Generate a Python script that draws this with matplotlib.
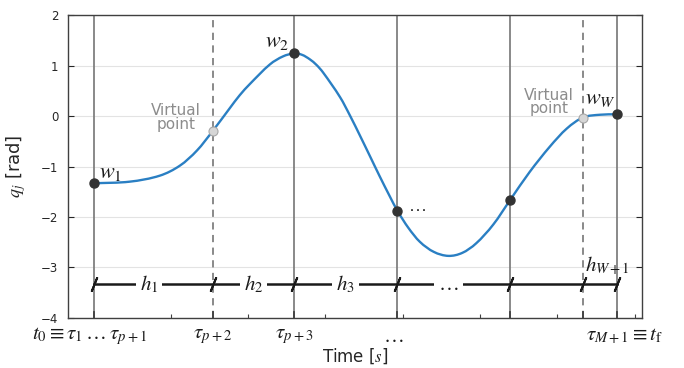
import matplotlib
matplotlib.use("Agg")
import matplotlib.pyplot as plt
from matplotlib.path import Path
from matplotlib.patches import PathPatch

plt.rcParams['mathtext.fontset'] = 'stix'
plt.rcParams['font.family'] = ['DejaVu Sans']

# Curve samples (time, joint position)
curve_t = [0.00, 0.47, 0.86, 1.12, 1.34, 1.54, 1.76, 1.89, 2.02, 2.28, 2.45, 2.595,
           2.70, 2.80, 2.885, 2.97, 3.19, 3.32, 3.45, 3.58, 3.70, 3.83, 3.93,
           4.07, 4.22, 4.40, 4.59, 4.77, 4.95, 5.17, 5.39, 5.64, 5.90, 6.12,
           6.33, 6.55, 6.77]
curve_q = [-1.333, -1.30, -1.18, -0.98, -0.68, -0.30, 0.15, 0.41, 0.63, 1.02, 1.18, 1.24,
           1.21, 1.12, 1.01, 0.86, 0.37, 0.00, -0.40, -0.81, -1.19, -1.585, -1.875,
           -2.21, -2.49, -2.69, -2.77, -2.71, -2.52, -2.15, -1.66, -1.11, -0.61, -0.25,
           -0.03, 0.025, 0.034]

# Waypoints and virtual points
way_t = [0.0, 2.595, 3.93, 5.39, 6.77]
way_q = [-1.333, 1.24, -1.875, -1.66, 0.034]
virt_t = [1.54, 6.33]
virt_q = [-0.30, -0.03]

# Knot lines
solid_knots = [0.0, 2.595, 3.93, 5.39, 6.77]
dashed_knots = [1.54, 6.33]
all_knots = [0.0, 1.54, 2.595, 3.93, 5.39, 6.33, 6.77]

knot_label_t = [-0.05, 1.54, 2.595, 3.88, 6.87]
knot_labels = [r'$t_0 \equiv \tau_1 \,\ldots\, \tau_{p+1}$', r'$\tau_{p+2}$',
               r'$\tau_{p+3}$', r'$\ldots$', r'$\tau_{M+1} \equiv t_{\rm f}$']

h_t = [0.72, 2.07, 3.26, 4.59]
h_labels = [r'$h_1$', r'$h_2$', r'$h_3$', r'$\ldots$']
h_level = -3.33

yticks = [2, 1, 0, -1, -2, -3, -4]
xminor = [1, 2, 3, 4, 5, 6, 7]


def smooth_path(xs, ys):
    """Bezier path passing through every sample (Catmull-Rom style tangents)."""
    n = len(xs)
    verts = [(xs[0], ys[0])]
    codes = [Path.MOVETO]
    for i in range(n - 1):
        i0 = max(i - 1, 0)
        i3 = min(i + 2, n - 1)
        h = xs[i + 1] - xs[i]
        m1 = (ys[i + 1] - ys[i0]) / (xs[i + 1] - xs[i0])
        m2 = (ys[i3] - ys[i]) / (xs[i3] - xs[i])
        c1 = (xs[i] + h / 3.0, ys[i] + m1 * h / 3.0)
        c2 = (xs[i + 1] - h / 3.0, ys[i + 1] - m2 * h / 3.0)
        verts += [c1, c2, (xs[i + 1], ys[i + 1])]
        codes += [Path.CURVE4] * 3
    return Path(verts, codes)


fig = plt.figure(figsize=(6.84, 3.68), dpi=100)
ax = fig.add_axes([0.0994, 0.1359, 0.8399, 0.8233])
ax.set_xlim(-0.33, 7.1)
ax.set_ylim(-4, 2)

for y in yticks:
    ax.axhline(y, color='#e3e3e3', lw=0.8, zorder=0)

for t in solid_knots:
    ax.axvline(t, color='#808080', lw=1.3, zorder=1)
for t in dashed_knots:
    ax.axvline(t, color='#808080', lw=1.3, ls=(0, (4, 3)), zorder=1)

ax.add_patch(PathPatch(smooth_path(curve_t, curve_q), facecolor='none',
                       edgecolor='#2a7fc3', lw=1.7, zorder=3))
ax.plot(way_t, way_q, 'o', color='#333333', ms=6.5, zorder=4)
ax.plot(virt_t, virt_q, 'o', mfc='#d6d6d6', mec='#a8a8a8', mew=0.8, ms=6.5, zorder=4)

# interval line
ax.plot([all_knots[0], all_knots[-1]], [h_level, h_level], color='#1a1a1a', lw=1.8, zorder=5)
ax.plot(all_knots, [h_level] * len(all_knots), ls='none', marker=(2, 2, -22),
        ms=11, mew=1.4, color='#1a1a1a', zorder=6)
for t, lab in zip(h_t, h_labels):
    ax.text(t, h_level, lab, ha='center', va='center', fontsize=15, color='#1a1a1a',
            zorder=7, bbox=dict(facecolor='white', edgecolor='none', pad=3))
ax.text(6.65, -2.97, r'$h_{W+1}$', ha='center', va='center', fontsize=15, color='#1a1a1a', zorder=7)

# point labels
ax.text(0.07, -1.12, r'$w_1$', fontsize=16, color='#1a1a1a', ha='left', va='center')
ax.text(2.38, 1.47, r'$w_2$', fontsize=16, color='#1a1a1a', ha='center', va='center')
ax.text(4.18, -1.78, r'$\ldots$', fontsize=13, color='#1a1a1a', ha='center', va='center')
ax.text(6.55, 0.33, r'$w_W$', fontsize=16, color='#1a1a1a', ha='center', va='center')
ax.text(1.07, -0.03, 'Virtual\npoint', fontsize=11, color='#8c8c8c', ha='center',
        va='center', linespacing=0.85)
ax.text(5.89, 0.27, 'Virtual\npoint', fontsize=11, color='#8c8c8c', ha='center',
        va='center', linespacing=0.85)

# axes styling
ax.set_yticks(yticks)
ax.set_yticklabels([str(v).replace('-', '\u2212') for v in yticks])
ax.tick_params(axis='y', direction='in', length=4, labelsize=8.5, colors='#262626',
               right=True, pad=7)
ax.set_xticks(xminor)
ax.set_xticklabels([])
ax.tick_params(axis='x', direction='in', length=3, color='#404040')
for t in all_knots:
    ax.plot([t, t], [-4, -3.88], color='#404040', lw=1.3, zorder=2)
for t, lab in zip(knot_label_t, knot_labels):
    ax.text(t, -4.15, lab, ha='center', va='top', fontsize=15, color='#1a1a1a')

for s in ax.spines.values():
    s.set_color('#404040')
    s.set_linewidth(1.0)

ax.set_ylabel(r'$q_j$ [rad]', fontsize=13, color='#262626', labelpad=9)
ax.set_xlabel(r'Time [$s$]', fontsize=12, color='#262626')
ax.xaxis.set_label_coords(0.5, -0.095)

fig.savefig('out.png', dpi=100)
